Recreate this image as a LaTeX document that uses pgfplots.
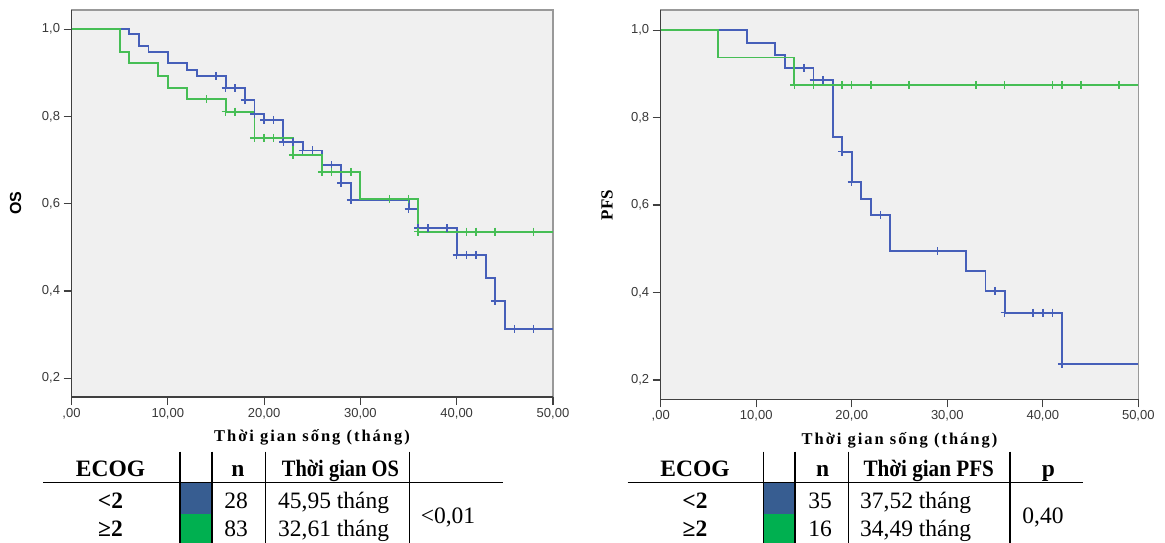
\documentclass[border=0pt]{standalone}
\usepackage{fontspec}
\setmainfont{Liberation Serif}
\newfontfamily\arialf{Liberation Sans}
\usepackage{pgfplots}
\pgfplotsset{compat=1.18}

\definecolor{kmblue}{RGB}{70,95,185}
\definecolor{kmgreen}{RGB}{70,190,85}
\definecolor{swblue}{RGB}{55,93,145}
\definecolor{swgreen}{RGB}{0,176,80}
\definecolor{bgray}{RGB}{240,240,240}

\pgfplotsset{
  kmaxis/.style={
    scale only axis, anchor=south west,
    xmin=0, xmax=50,
    axis x line*=bottom, axis y line*=left,
    axis line style={-, black!75, line width=1.3bp},
    axis background/.style={fill=bgray, draw=black!40, line width=1.4bp},
    tick align=outside, major tick length=8bp,
    tick style={black!75, line width=1.2bp},
    xtick={0,10,20,30,40,50},
    xticklabels={{,00},{10,00},{20,00},{30,00},{40,00},{50,00}},
    ytick={0.2,0.4,0.6,0.8,1.0},
    yticklabels={{0,2},{0,4},{0,6},{0,8},{1,0}},
    ticklabel style={font=\arialf\fontsize{13bp}{15bp}\selectfont, text=black!78},
    clip=false,
  },
  kmline/.style={const plot, mark=none, line width=1.9bp},
  kmcens/.style={only marks, mark=+, mark size=4bp, mark options={line width=1.5bp}},
}

\newcommand{\tabfont}{\fontsize{23.5bp}{26bp}\selectfont}
\newcommand{\xlab}{\fontsize{16.5bp}{18bp}\selectfont\bfseries\addfontfeature{LetterSpace=12}Thời gian sống (tháng)}

\begin{document}
\begin{tikzpicture}
\path[use as bounding box] (0,0) rectangle (1165bp,-543bp);

% ---- OS ----
\begin{axis}[kmaxis, at={(71.5bp,-397bp)}, width=481.5bp, height=387bp,
  ymin=0.157, ymax=1.044]
\addplot[kmline, kmblue] coordinates {
 (0,1) (6,0.989) (7,0.962) (8,0.947) (10,0.922) (12,0.907) (13,0.893)
 (16,0.865) (18,0.838) (19,0.806) (20,0.792) (22,0.741) (24,0.722)
 (26,0.688) (28,0.648) (29,0.608) (35,0.588) (36,0.544) (40,0.483)
 (43,0.430) (44,0.377) (45,0.313) (50,0.313)};
\addplot[kmcens, kmblue] coordinates {
 (15,0.893) (16,0.865) (17,0.865) (18,0.838) (19,0.806) (20,0.792)
 (21,0.792) (22,0.741) (23,0.741) (24,0.722) (25,0.722) (27,0.688)
 (28,0.648) (29,0.608) (35,0.588) (36,0.544) (37,0.544) (39,0.544)
 (40,0.483) (41,0.483) (42,0.483) (44,0.377) (46,0.313) (48,0.313)};
\addplot[kmline, kmgreen] coordinates {
 (0,1) (5,0.947) (6,0.922) (9,0.893) (10,0.866) (12,0.839) (16,0.811)
 (19,0.751) (23,0.712) (26,0.673) (30,0.611) (36,0.536) (50,0.536)};
\addplot[kmcens, kmgreen] coordinates {
 (14,0.839) (16,0.811) (17,0.811) (19,0.751) (20,0.751) (21,0.751)
 (23,0.712) (26,0.673) (27,0.673) (29,0.673) (33,0.611) (35,0.611)
 (36,0.536) (41,0.536) (42,0.536) (44,0.536) (48,0.536)};
\end{axis}

% ---- PFS ----
\begin{axis}[kmaxis, at={(660.7bp,-399.3bp)}, width=477.6bp, height=389.3bp,
  ymin=0.156, ymax=1.046]
\addplot[kmline, kmblue] coordinates {
 (0,1) (9,0.971) (12,0.943) (13,0.914) (16,0.886) (18,0.755) (19,0.722)
 (20,0.653) (21,0.614) (22,0.577) (24,0.495) (32,0.450) (34,0.404)
 (36,0.354) (42,0.237) (50,0.237)};
\addplot[kmcens, kmblue] coordinates {
 (15,0.914) (16,0.886) (17,0.886) (19,0.722) (20,0.653) (23,0.577)
 (29,0.495) (35,0.404) (36,0.354) (39,0.354) (40,0.354) (41,0.354)
 (42,0.237)};
\addplot[kmline, kmgreen] coordinates {
 (0,1) (6,0.9375) (14,0.875) (50,0.875)};
\addplot[kmcens, kmgreen] coordinates {
 (14,0.875) (16,0.875) (19,0.875) (20,0.875) (22,0.875) (26,0.875)
 (33,0.875) (36,0.875) (41,0.875) (42,0.875) (44,0.875) (48,0.875)};
\end{axis}

% axis titles
\node[rotate=90, font=\arialf\bfseries\fontsize{16bp}{18bp}\selectfont] at (15.5bp,-203bp) {OS};
\node[rotate=90, font=\bfseries\fontsize{17bp}{19bp}\selectfont] at (607bp,-205bp) {PFS};
\node at (312bp,-437bp) {\xlab};
\node at (899.5bp,-440bp) {\xlab};

% ---- table OS ----
\fill[swblue] (180bp,-482.7bp) rectangle (212bp,-514bp);
\fill[swgreen] (180bp,-514bp) rectangle (212bp,-543bp);
\draw[line width=1.3bp] (43bp,-482.7bp) -- (503bp,-482.7bp);
\foreach \x in {180,212,265.7,409.3}
  \draw[line width=1.3bp] (\x bp,-451.7bp) -- (\x bp,-543bp);
\begin{scope}[every node/.style={inner sep=0pt, font=\tabfont}]
\node[anchor=base] at (110.5bp,-476.7bp) {\textbf{ECOG}};
\node[anchor=base] at (238bp,-476.7bp) {\textbf{n}};
\node[anchor=base west] at (281.7bp,-476.7bp) {\scalebox{0.87}[1]{\textbf{Thời gian OS}}};
\node[anchor=base] at (110.5bp,-508.3bp) {\textbf{<2}};
\node[anchor=base] at (110.5bp,-536.7bp) {\textbf{≥2}};
\node[anchor=base] at (236bp,-508.3bp) {28};
\node[anchor=base] at (236bp,-536.7bp) {83};
\node[anchor=base west] at (278bp,-508.3bp) {45,95 tháng};
\node[anchor=base west] at (278bp,-536.7bp) {32,61 tháng};
\node[anchor=base] at (448bp,-523.3bp) {<0,01};
\end{scope}

% ---- table PFS ----
\fill[swblue] (763.3bp,-482.7bp) rectangle (795bp,-514bp);
\fill[swgreen] (763.3bp,-514bp) rectangle (795bp,-543bp);
\draw[line width=1.3bp] (627.7bp,-482.7bp) -- (1083.3bp,-482.7bp);
\foreach \x in {763.3,795,848.3,1010}
  \draw[line width=1.3bp] (\x bp,-451.7bp) -- (\x bp,-543bp);
\begin{scope}[every node/.style={inner sep=0pt, font=\tabfont}]
\node[anchor=base] at (695bp,-476.7bp) {\textbf{ECOG}};
\node[anchor=base] at (822.7bp,-476.7bp) {\textbf{n}};
\node[anchor=base west] at (863.3bp,-476.7bp) {\scalebox{0.9}[1]{\textbf{Thời gian PFS}}};
\node[anchor=base] at (1048.3bp,-476.7bp) {\textbf{p}};
\node[anchor=base] at (695bp,-508.3bp) {\textbf{<2}};
\node[anchor=base] at (695bp,-536.7bp) {\textbf{≥2}};
\node[anchor=base] at (820bp,-508.3bp) {35};
\node[anchor=base] at (820bp,-536.7bp) {16};
\node[anchor=base west] at (860bp,-508.3bp) {37,52 tháng};
\node[anchor=base west] at (860bp,-536.7bp) {34,49 tháng};
\node[anchor=base] at (1043bp,-523.3bp) {0,40};
\end{scope}
\end{tikzpicture}
\end{document}
